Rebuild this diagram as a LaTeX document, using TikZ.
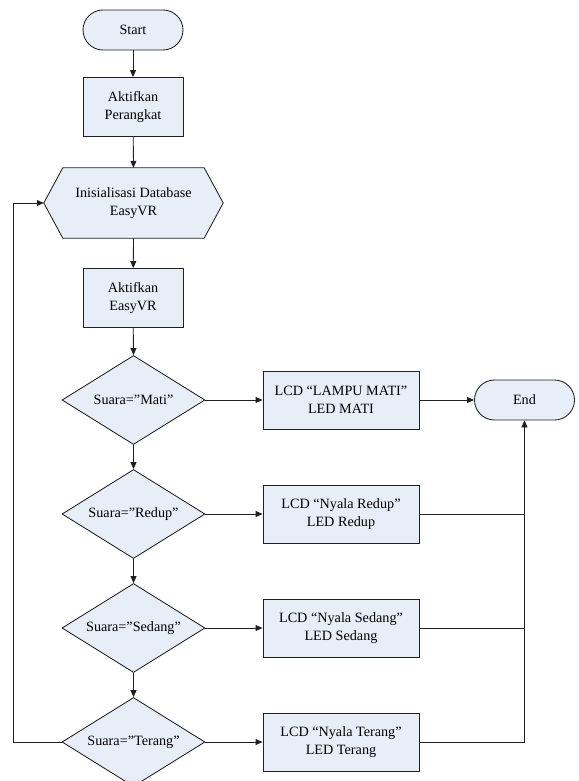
\documentclass[tikz,border=0pt]{standalone}
\usepackage{fontspec}
\setmainfont{Liberation Serif}
\usetikzlibrary{shapes.geometric,arrows.meta}
\pgfdeclarelayer{bg}
\pgfsetlayers{bg,main}
\definecolor{boxfill}{HTML}{E8EEF7}
\definecolor{edge}{HTML}{202020}
\newcommand{\chartfont}{\fontsize{14.2}{17.5}\selectfont}
\tikzset{
  base/.style={draw=edge, line width=0.85pt, fill=boxfill, align=center,
    font=\chartfont, inner sep=0pt},
  terminal/.style={base, rounded corners=20pt, minimum width=100pt, minimum height=40pt},
  process/.style={base, rectangle, minimum width=100pt, minimum height=59pt},
  lcdbox/.style={base, rectangle, minimum width=156pt, minimum height=58pt},
  decision/.style={base, diamond, aspect=1.607, minimum width=143pt, minimum height=89pt},
  prep/.style={align=center, font=\chartfont, inner sep=0pt,
    minimum width=179pt, minimum height=70pt},
  flow/.style={draw=edge, line width=0.85pt, -{Triangle[length=7pt,width=6pt]}},
  joinline/.style={draw=edge, line width=0.85pt}
}
\begin{document}
\begin{tikzpicture}[x=1pt,y=-1pt]
  \useasboundingbox (0,0) rectangle (578,781);
  \clip (0,0) rectangle (578,781);

  % main column
  \node[terminal] (start) at (133,30) {Start};
  \node[process] (dev) at (133,107) {Aktifkan\\Perangkat};
  \node[prep] (init) at (133.5,203) {Inisialisasi Database\\EasyVR};
  \begin{pgfonlayer}{bg}
    \draw[base] ([xshift=19pt]init.north west) -- ([xshift=-19pt]init.north east)
      -- (init.east) -- ([xshift=-19pt]init.south east)
      -- ([xshift=19pt]init.south west) -- (init.west) -- cycle;
  \end{pgfonlayer}
  \node[process] (evr) at (133,298) {Aktifkan\\EasyVR};

  \node[decision] (d1) at (133.5,400) {Suara=”Mati”};
  \node[decision] (d2) at (133.5,514) {Suara=”Redup”};
  \node[decision] (d3) at (133.5,628) {Suara=”Sedang”};
  \node[decision] (d4) at (133.5,742) {Suara=”Terang”};

  % actions
  \node[lcdbox] (l1) at (341,400) {LCD “LAMPU MATI”\\LED MATI};
  \node[lcdbox] (l2) at (341,514) {LCD “Nyala Redup”\\LED Redup};
  \node[lcdbox] (l3) at (341,628) {LCD “Nyala Sedang”\\LED Sedang};
  \node[lcdbox] (l4) at (341,742) {LCD “Nyala Terang”\\LED Terang};
  \node[terminal] (end) at (524.5,400) {End};

  % vertical flow
  \draw[flow] (start) -- (dev);
  \draw[flow] (dev) -- (init.north);
  \draw[flow] (init.south) -- (evr);
  \draw[flow] (evr) -- (d1.north);
  \draw[flow] (d1.south) -- (d2.north);
  \draw[flow] (d2.south) -- (d3.north);
  \draw[flow] (d3.south) -- (d4.north);

  % decisions to actions
  \draw[flow] (d1.east) -- (l1.west);
  \draw[flow] (d2.east) -- (l2.west);
  \draw[flow] (d3.east) -- (l3.west);
  \draw[flow] (d4.east) -- (l4.west);

  % actions to End
  \draw[flow] (l1.east) -- (end.west);
  \draw[flow] (l4.east) -- (l4.east -| end.south) -- (end.south);
  \draw[joinline] (l2.east) -- (l2.east -| end.south);
  \draw[joinline] (l3.east) -- (l3.east -| end.south);

  % loop back to initialisation
  \draw[flow] (d4.west) -- ++(-48,0) |- (init.west);
\end{tikzpicture}
\end{document}
